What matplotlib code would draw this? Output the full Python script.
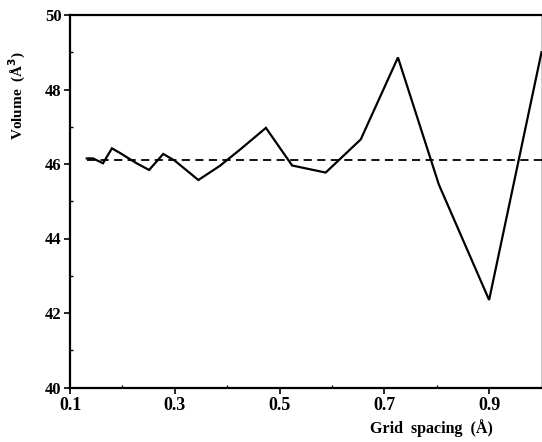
"""Volume vs grid spacing, solid computed curve plus dashed reference level."""

import matplotlib
matplotlib.use("Agg")
import matplotlib.pyplot as plt
from matplotlib.ticker import MultipleLocator

# grid spacing (Å) and computed volume (Å^3)
spacing = [0.132, 0.144, 0.163, 0.180, 0.195, 0.227, 0.251, 0.278, 0.300,
           0.345, 0.386, 0.424, 0.474, 0.524, 0.588, 0.655, 0.726, 0.804,
           0.900, 1.000]
volume = [46.15, 46.15, 46.02, 46.42, 46.30, 46.02, 45.84, 46.27, 46.09,
          45.57, 45.95, 46.38, 46.97, 45.96, 45.77, 46.66, 48.86, 45.45,
          42.35, 49.0]

ref_x = [0.132, 1.0]
ref_volume = [46.12, 46.12]

xticks = [0.1, 0.3, 0.5, 0.7, 0.9]
xticklabels = ["0.1", "0.3", "0.5", "0.7", "0.9"]
yticks = [40, 42, 44, 46, 48, 50]

plt.rcParams["font.family"] = ["Liberation Serif", "DejaVu Serif"]
plt.rcParams["font.weight"] = "bold"

fig = plt.figure(figsize=(5.42, 4.42), dpi=100)
ax = fig.add_axes([70 / 542, 54.5 / 442, 471.5 / 542, 372.5 / 442])

ax.plot(spacing, volume, color="black", linewidth=1.6, solid_joinstyle="miter")
ax.plot(ref_x, ref_volume, color="black", linewidth=1.3, linestyle=(0, (4.5, 3)))

ax.set_xlim(0.1, 1.0)
ax.set_ylim(40, 50)
ax.set_xticks(xticks)
ax.set_xticklabels(xticklabels)
ax.set_yticks(yticks)
ax.xaxis.set_minor_locator(MultipleLocator(0.1))
ax.yaxis.set_minor_locator(MultipleLocator(1))
ax.tick_params(which="major", direction="out", length=4, width=1.2,
               labelsize=13, pad=3)
ax.tick_params(which="minor", direction="in", length=2.5, width=1)
ax.tick_params(axis="y", pad=2, labelsize=12)

for s in ["left", "bottom", "top"]:
    ax.spines[s].set_linewidth(1.6)
ax.spines["right"].set_linewidth(1.0)

ax.set_ylabel("Volume  (Å$^3$)", fontsize=11, fontweight="bold")
ax.yaxis.set_label_coords(-0.112, 0.785)
ax.yaxis.label.set_va("center")

ax.set_xlabel("Grid  spacing  (Å)", fontsize=11.5, fontweight="bold")
ax.xaxis.set_label_coords(0.766, -0.108)
ax.xaxis.label.set_va("center")

fig.savefig("out.png", dpi=100)
